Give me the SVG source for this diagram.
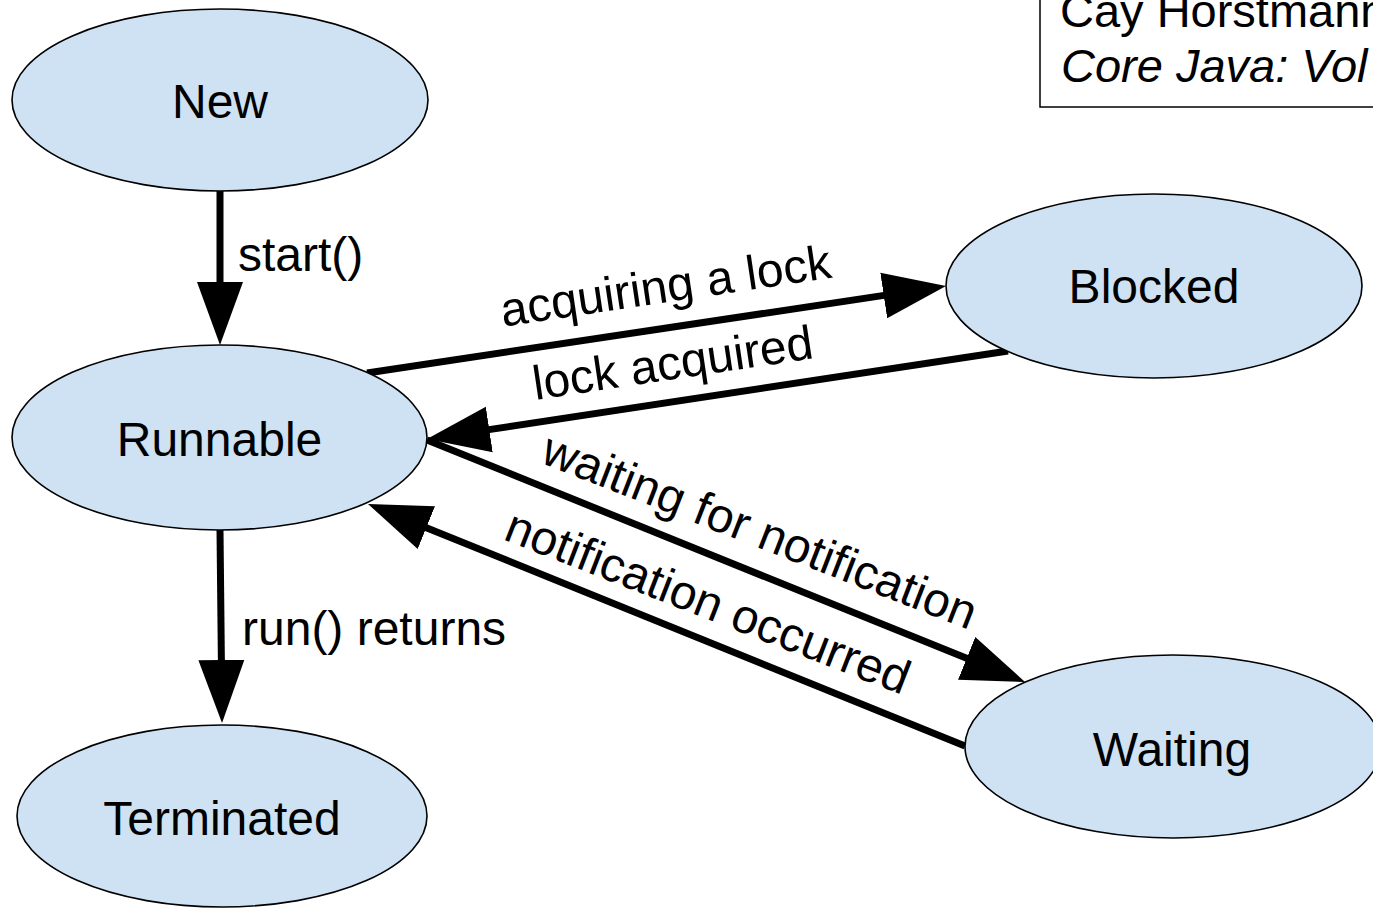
<svg xmlns="http://www.w3.org/2000/svg" width="1373" height="908" viewBox="0 0 1373 908">
<style>
.node ellipse{fill:#cfe2f3;stroke:#000;stroke-width:1.6}
.node text{font-family:"Liberation Sans",Arial,sans-serif;font-size:48px;fill:#000;text-anchor:middle}
.edge{stroke:#000;stroke-width:7;fill:none;marker-end:url(#ah)}
.lbl{font-family:"Liberation Sans",Arial,sans-serif;font-size:48px;fill:#000}
.cap{font-family:"Liberation Sans",Arial,sans-serif;font-size:47px;fill:#000}
</style>
<defs>
<marker id="ah" markerUnits="userSpaceOnUse" markerWidth="70" markerHeight="50" viewBox="0 -25 70 50" refX="2" refY="0" orient="auto">
<path d="M0,-23 L63,0 L0,23 Z" fill="#000"/>
</marker>
</defs>
<rect width="1373" height="908" fill="#fff"/>
<g id="caption">
<rect x="1040" y="-5" width="400" height="112" fill="#fff" stroke="#000" stroke-width="1.5"/>
<text class="cap" x="1060" y="27">Cay Horstmann</text>
<text class="cap" x="1061" y="82" font-style="italic">Core Java: Vol</text>
</g>
<g id="connectors">
<line class="edge" x1="220" y1="190" x2="220" y2="284"/>
<line class="edge" x1="220" y1="530" x2="221.4" y2="662"/>
<line class="edge" x1="367" y1="373" x2="885.7" y2="295.1"/>
<line class="edge" x1="1008" y1="351" x2="487.3" y2="429.9"/>
<line class="edge" x1="427" y1="440" x2="968.5" y2="659.1"/>
<line class="edge" x1="965" y1="746" x2="424.5" y2="526.9"/>
<text class="lbl" x="238" y="271">start()</text>
<text class="lbl" x="242" y="645">run() returns</text>
<text class="lbl" text-anchor="middle" transform="translate(668,302) rotate(-8.5)">acquiring a lock</text>
<text class="lbl" text-anchor="middle" transform="translate(675,379) rotate(-8.5)">lock acquired</text>
<text class="lbl" text-anchor="middle" transform="translate(754,546) rotate(21.3)">waiting for notification</text>
<text class="lbl" text-anchor="middle" transform="translate(702,617) rotate(21.3)">notification occurred</text>
</g>
<g id="new" class="node"><ellipse cx="220" cy="100" rx="208" ry="91"/><text x="220" y="118">New</text></g>
<g id="runnable" class="node"><ellipse cx="219.5" cy="437.5" rx="207.5" ry="92.5"/><text x="219.5" y="456">Runnable</text></g>
<g id="terminated" class="node"><ellipse cx="222" cy="816" rx="205" ry="91"/><text x="222" y="835">Terminated</text></g>
<g id="blocked" class="node"><ellipse cx="1154" cy="286" rx="208" ry="92"/><text x="1154" y="303">Blocked</text></g>
<g id="waiting" class="node"><ellipse cx="1173" cy="746.5" rx="208" ry="91.5"/><text x="1172" y="766">Waiting</text></g>
</svg>
